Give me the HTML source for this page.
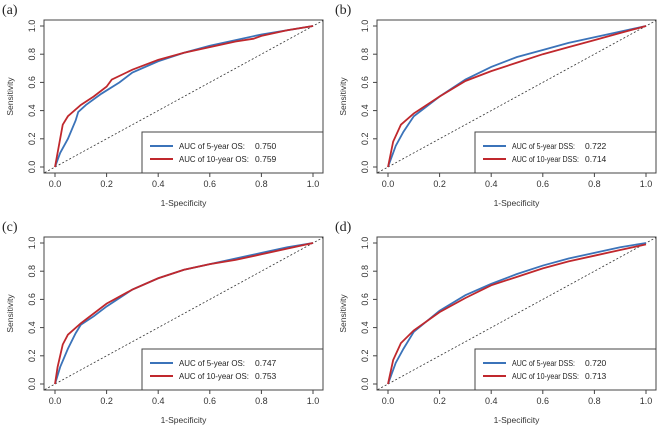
<!DOCTYPE html>
<html><head><meta charset="utf-8"><style>
body{margin:0;background:#fff;}
svg{display:block;font-family:"Liberation Sans",sans-serif;}
</style></head><body>
<svg id="fig" width="658" height="429"></svg>
<script>
const ticks=[0,0.2,0.4,0.6,0.8,1.0];
const tickLabels=["0.0","0.2","0.4","0.6","0.8","1.0"];
const panelLabels=["(a)","(b)","(c)","(d)"];
const legend5=["AUC of 5-year OS:","AUC of 5-year DSS:","AUC of 5-year OS:","AUC of 5-year DSS:"];
const legend10=["AUC of 10-year OS:","AUC of 10-year DSS:","AUC of 10-year OS:","AUC of 10-year DSS:"];
const auc5=["0.750","0.722","0.747","0.720"];
const auc10=["0.759","0.714","0.753","0.713"];
const fprA5=[0,0.02,0.05,0.08,0.09,0.12,0.18,0.25,0.3,0.4,0.5,0.6,0.7,0.8,0.9,1];
const tprA5=[0,0.1,0.2,0.33,0.39,0.44,0.52,0.6,0.67,0.75,0.81,0.86,0.9,0.94,0.97,1];
const fprA10=[0,0.01,0.03,0.05,0.1,0.15,0.2,0.22,0.3,0.4,0.5,0.6,0.7,0.77,0.8,0.9,1];
const tprA10=[0,0.1,0.3,0.36,0.44,0.5,0.57,0.62,0.69,0.76,0.81,0.85,0.89,0.91,0.93,0.97,1];
const fprB5=[0,0.03,0.06,0.1,0.2,0.3,0.4,0.5,0.6,0.7,0.8,0.9,1];
const tprB5=[0,0.15,0.25,0.36,0.5,0.62,0.71,0.78,0.83,0.88,0.92,0.96,1];
const fprB10=[0,0.02,0.05,0.1,0.2,0.3,0.4,0.5,0.6,0.7,0.8,0.9,1];
const tprB10=[0,0.18,0.3,0.38,0.5,0.61,0.68,0.74,0.8,0.85,0.9,0.95,1];
const fprC5=[0,0.02,0.05,0.08,0.1,0.15,0.2,0.3,0.4,0.5,0.6,0.7,0.8,0.9,1];
const tprC5=[0,0.12,0.25,0.36,0.42,0.48,0.55,0.67,0.75,0.81,0.85,0.89,0.93,0.97,1];
const fprC10=[0,0.01,0.03,0.05,0.1,0.15,0.2,0.3,0.4,0.5,0.6,0.7,0.8,0.9,1];
const tprC10=[0,0.12,0.28,0.35,0.43,0.5,0.57,0.67,0.75,0.81,0.85,0.88,0.92,0.96,1];
const fprD5=[0,0.03,0.06,0.1,0.2,0.3,0.4,0.5,0.6,0.7,0.8,0.9,1];
const tprD5=[0,0.15,0.25,0.37,0.52,0.63,0.71,0.78,0.84,0.89,0.93,0.97,1];
const fprD10=[0,0.02,0.05,0.1,0.2,0.3,0.4,0.5,0.6,0.7,0.8,0.9,1];
const tprD10=[0,0.17,0.29,0.38,0.51,0.61,0.7,0.76,0.82,0.87,0.91,0.95,0.99];
const series5=[[fprA5,tprA5],[fprB5,tprB5],[fprC5,tprC5],[fprD5,tprD5]];
const series10=[[fprA10,tprA10],[fprB10,tprB10],[fprC10,tprC10],[fprD10,tprD10]];

const NS="http://www.w3.org/2000/svg";
const svg=document.getElementById('fig');
function mk(tag,attrs,parent){const e=document.createElementNS(NS,tag);for(const k in attrs)e.setAttribute(k,attrs[k]);(parent||svg).appendChild(e);return e;}
const geo=[{ox:0,oy:0},{ox:333,oy:0},{ox:0,oy:217},{ox:333,oy:217}];
geo.forEach((g,i)=>{
  const grp=mk('g',{});
  
  
  const X0=55+g.ox,X1=313+g.ox,Y0=167+g.oy,Y1=26+g.oy;
  const bl=44+g.ox,br=323+g.ox,bt=20+g.oy,bb=173+g.oy;
  const sx=v=>X0+(X1-X0)*v, sy=v=>Y0+(Y1-Y0)*v;
  const t=mk('text',{x:2+g.ox,y:14+g.oy,'font-family':'Liberation Serif,serif','font-size':14,fill:'#222'},grp);
  t.textContent=panelLabels[i];
  
  
  const box=mk('rect',{x:bl,y:bt,width:br-bl,height:bb-bt,fill:'none',stroke:'#444','stroke-width':1},grp);
  
  
  ticks.forEach((v,j)=>{
    mk('line',{x1:sx(v),x2:sx(v),y1:bb,y2:bb+4,stroke:'#444'},grp);
    const xl=mk('text',{x:sx(v),y:bb+14,'font-size':9,'text-anchor':'middle',fill:'#333'},grp);
    xl.textContent=tickLabels[j];
    
    
    mk('line',{x1:bl,x2:bl-4,y1:sy(v),y2:sy(v),stroke:'#444'},grp);
    const yl=mk('text',{x:bl-9,y:sy(v),'font-size':9,'text-anchor':'middle',fill:'#333',transform:`rotate(-90 ${bl-9} ${sy(v)})`},grp);
    yl.textContent=tickLabels[j];
    
    
  });
  const xt=mk('text',{x:(bl+br)/2,y:bb+33,'font-size':8.5,'text-anchor':'middle',fill:'#333'},grp);
  xt.textContent='1-Specificity';
  
  
  const yt=mk('text',{x:13+g.ox,y:(bt+bb)/2,'font-size':8.5,'text-anchor':'middle',fill:'#333',transform:`rotate(-90 ${13+g.ox} ${(bt+bb)/2})`},grp);
  yt.textContent='Sensitivity';
  
  
  const d=mk('line',{x1:sx(-0.04),y1:sy(-0.04),x2:sx(1.04),y2:sy(1.04),stroke:'#333','stroke-dasharray':'2,2','stroke-width':0.8},grp);
  
  
  const cp='c'+i; const clip=mk('clipPath',{id:cp},grp); mk('rect',{x:bl,y:bt,width:br-bl,height:bb-bt},clip);
  [[series5[i],'#3b73b9','roc-5-year'],[series10[i],'#c0282d','roc-10-year']].forEach(([s,c,n])=>{
    const pts=s[0].map((f,k)=>sx(f)+','+sy(s[1][k])).join(' ');
    const pl=mk('polyline',{points:pts,fill:'none',stroke:c,'stroke-width':1.8,'clip-path':`url(#${cp})`},grp);
    
    
  });
  const lx=142+g.ox,ly=132+g.oy;
  const lg=mk('rect',{x:lx,y:ly,width:br-lx,height:bb-ly,fill:'#fff',stroke:'#444'},grp);
  
  
  const dss=(i%2===1);
  const valX=lx+(dss?110:113);
  const lens=dss?[63,67]:[66,70];
  [[legend5[i],auc5[i],'#3b73b9',146],[legend10[i],auc10[i],'#c0282d',159]].forEach(([lab,val,c,yy],k)=>{
    mk('line',{x1:lx+8,x2:lx+31,y1:yy+g.oy,y2:yy+g.oy,stroke:c,'stroke-width':2},grp);
    const tt=mk('text',{x:lx+37,y:yy+g.oy+3,'font-size':8.5,fill:'#222',textLength:lens[k],lengthAdjust:'spacingAndGlyphs'},grp);
    tt.textContent=lab;
    
    
    const tv=mk('text',{x:valX,y:yy+g.oy+3,'font-size':8.5,fill:'#222'},grp);
    tv.textContent=val;
    
    
  });
});
</script>
</body></html>
